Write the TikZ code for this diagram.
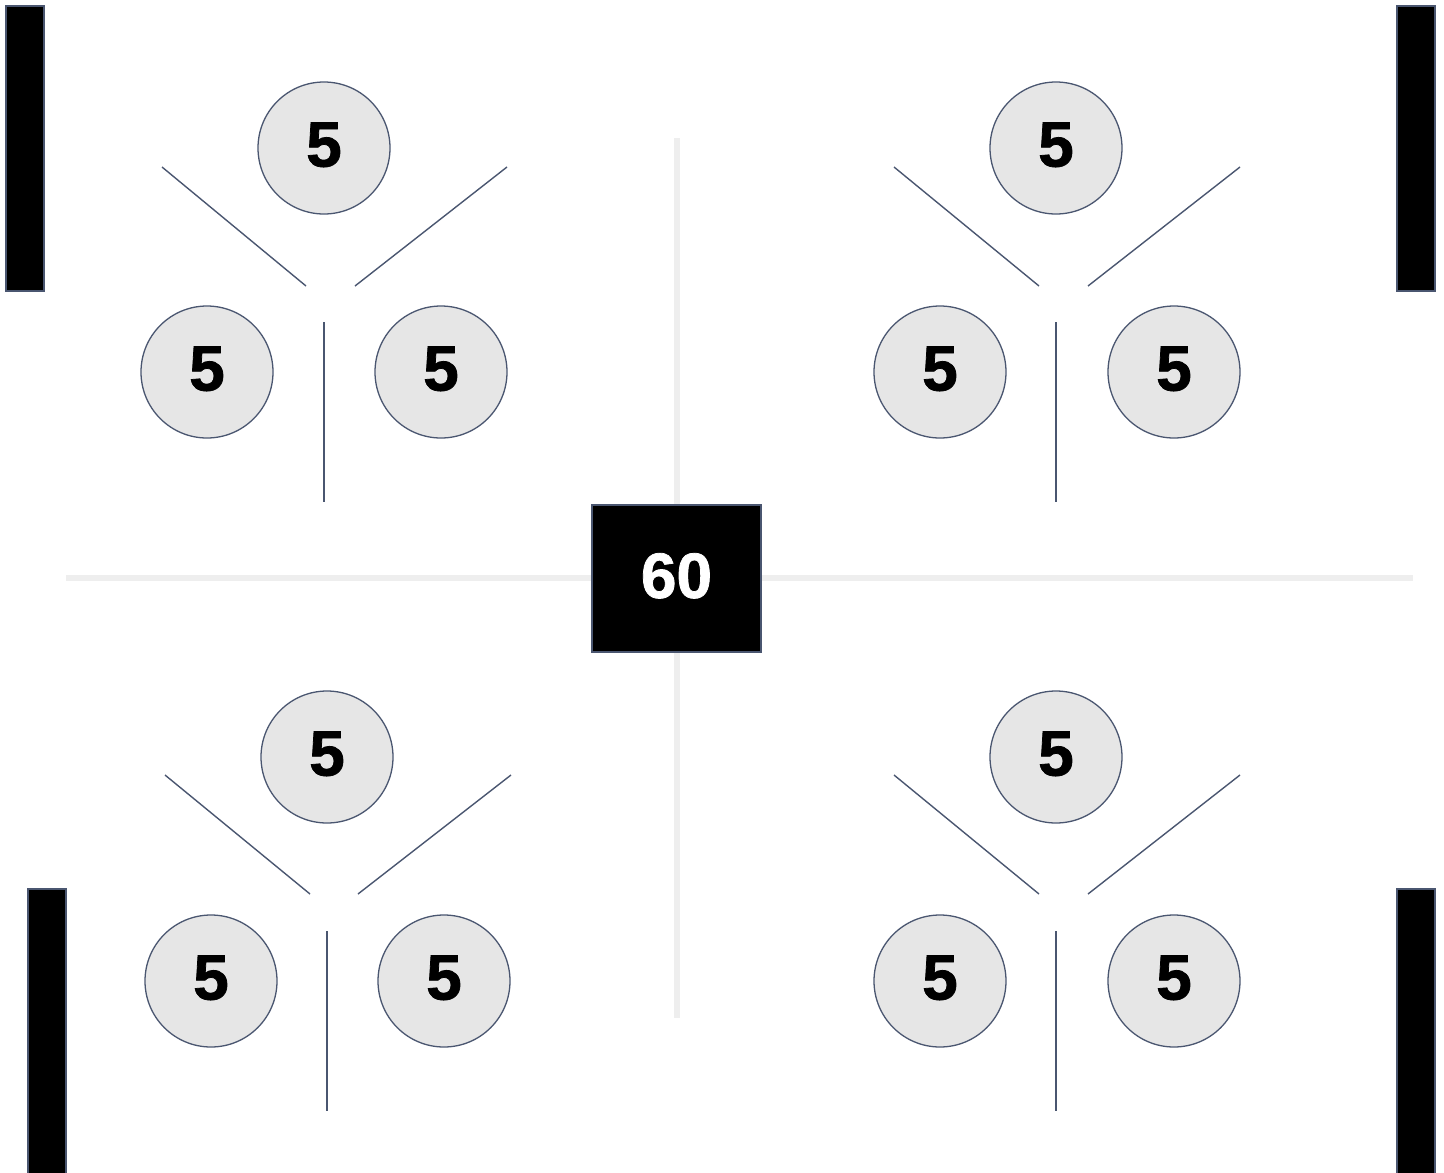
\documentclass[tikz,border=0pt]{standalone}
\usepackage{fontspec}
\setmainfont{Liberation Sans}
\newfontfamily\heavyfont[FakeBold=1.2]{Liberation Sans Bold}
\definecolor{slateline}{HTML}{4A5670}
\definecolor{discfill}{HTML}{E6E6E6}
\definecolor{axisgray}{HTML}{EEEEEE}
\newcommand{\bigDigit}[1]{\fontsize{64}{64}\heavyfont #1}

\begin{document}
\begin{tikzpicture}[x=1pt,y=-1pt,
  disc/.style={circle, draw=slateline, line width=1.3pt, fill=discfill, minimum size=132pt, inner sep=0pt, text depth=7pt, font=\bigDigit{}},
  divider/.style={draw=slateline, line width=1.4pt},
  axis/.style={draw=axisgray, line width=6pt},
  wall/.style={draw=slateline, line width=1.3pt, fill=black}]
\useasboundingbox (0,0) rectangle (1444,1173);
% cross
\draw[axis] (677,138) -- (677,1018);
\draw[axis] (66,578) -- (1413,578);
\node[draw=slateline, line width=1.3pt, fill=black, text=white, minimum width=169pt, minimum height=147pt, inner sep=0pt, text depth=6pt, font=\bigDigit{}] (total) at (676.5,578.5) {60};
% walls
\path[wall] (6,6) rectangle (44,291);
\path[wall] (1397,6) rectangle (1435,291);
\path[wall] (28,889) rectangle (66,1180);
\path[wall] (1397,889) rectangle (1435,1180);
% top left
\node[disc] (tl-top) at (324,148) {5};
\node[disc] (tl-left) at (207,372) {5};
\node[disc] (tl-right) at (441,372) {5};
\draw[divider] (162,167) -- (306,286);
\draw[divider] (507,167) -- (355,286);
\draw[divider] (324,322) -- (324,502);
% top right
\node[disc] (tr-top) at (1056,148) {5};
\node[disc] (tr-left) at (940,372) {5};
\node[disc] (tr-right) at (1174,372) {5};
\draw[divider] (894,167) -- (1039,286);
\draw[divider] (1240,167) -- (1088,286);
\draw[divider] (1056,322) -- (1056,502);
% bottom left
\node[disc] (bl-top) at (327,757) {5};
\node[disc] (bl-left) at (211,981) {5};
\node[disc] (bl-right) at (444,981) {5};
\draw[divider] (165,775) -- (310,894);
\draw[divider] (511,775) -- (358,894);
\draw[divider] (327,931) -- (327,1111);
% bottom right
\node[disc] (br-top) at (1056,757) {5};
\node[disc] (br-left) at (940,981) {5};
\node[disc] (br-right) at (1174,981) {5};
\draw[divider] (894,775) -- (1039,894);
\draw[divider] (1240,775) -- (1088,894);
\draw[divider] (1056,931) -- (1056,1111);
\end{tikzpicture}
\end{document}
